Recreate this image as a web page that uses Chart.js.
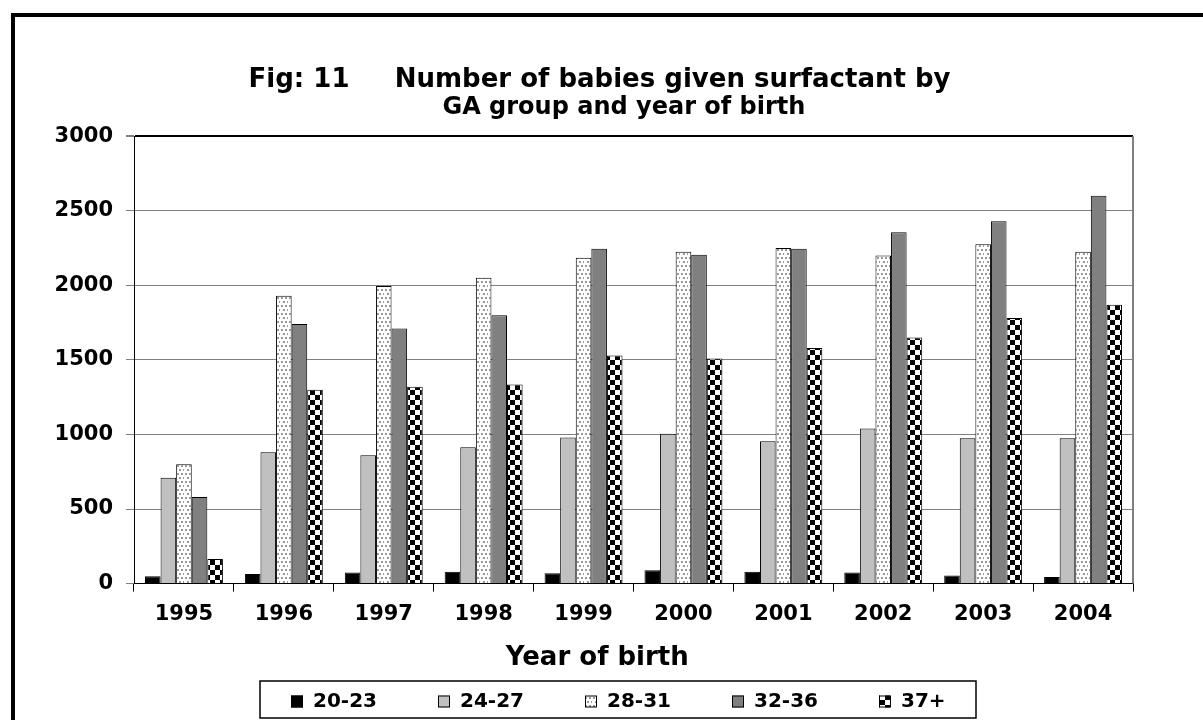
<!DOCTYPE html>
<html>
<head>
<meta charset="utf-8">
<script src="https://cdn.jsdelivr.net/npm/chart.js@4.4.1/dist/chart.umd.min.js"></script>
<style>
  html, body { margin: 0; padding: 0; background: #fff; overflow: hidden; }
  #frame { position: absolute; left: 11px; top: 13px; width: 1300px; height: 800px; border: 4px solid #000; }
  #surf { position: absolute; left: 0; top: 0; }
</style>
</head>
<body>
<div id="frame"></div>
<canvas id="surf" width="1203" height="720"></canvas>
<script>
// values
const years = ['1995', '1996', '1997', '1998', '1999', '2000', '2001', '2002', '2003', '2004'];
const ga20_23 = [50, 65, 75, 80, 70, 90, 80, 75, 55, 45];
const ga24_27 = [710, 880, 860, 915, 980, 1005, 955, 1040, 975, 975];
const ga28_31 = [800, 1930, 1995, 2050, 2185, 2225, 2250, 2200, 2275, 2225];
const ga32_36 = [580, 1740, 1710, 1800, 2245, 2205, 2245, 2355, 2430, 2600];
const ga37plus = [165, 1300, 1320, 1335, 1530, 1510, 1580, 1650, 1780, 1870];
const yTicks = [0, 500, 1000, 1500, 2000, 2500, 3000];

Chart.defaults.font.family = '"DejaVu Sans"';
Chart.defaults.font.weight = 'bold';
Chart.defaults.color = '#000';

function makeTile(size, paint) {
  const c = document.createElement('canvas');
  c.width = c.height = size;
  paint(c.getContext('2d'));
  return c;
}

const ctx = document.getElementById('surf').getContext('2d');

// white with little grey dots
const dots = ctx.createPattern(makeTile(8, g => {
  g.fillStyle = '#fff';
  g.fillRect(0, 0, 8, 8);
  g.fillStyle = '#999';
  [[1, 1], [5, 1], [3, 5], [7, 5]].forEach(p => g.fillRect(p[0], p[1], 2, 2));
}), 'repeat');

// black / white checks
const checks = ctx.createPattern(makeTile(10, g => {
  g.fillStyle = '#fff';
  g.fillRect(0, 0, 10, 10);
  g.fillStyle = '#000';
  g.fillRect(0, 0, 5, 5);
  g.fillRect(5, 5, 5, 5);
}), 'repeat');

// right side of the plot and the boxed legend under the axis title
const frameBits = {
  id: 'frameBits',
  afterDraw(chart) {
    const c = chart.ctx;
    const area = chart.chartArea;
    c.save();
    c.strokeStyle = '#808080';
    c.lineWidth = 2;
    c.beginPath();
    c.moveTo(area.right, area.top);
    c.lineTo(area.right, area.bottom);
    c.stroke();

    const top = 681, left = 260, w = 716, h = 37, first = 291, step = 147;
    c.strokeStyle = '#000';
    c.lineWidth = 1.5;
    c.strokeRect(left, top, w, h);
    c.font = 'bold 20px "DejaVu Sans"';
    c.textBaseline = 'middle';
    c.lineWidth = 1;
    chart.data.datasets.forEach((ds, i) => {
      const x = first + i * step, y = top + h / 2 + 2;
      c.fillStyle = ds.backgroundColor;
      c.fillRect(x, y - 6, 12, 12);
      c.strokeStyle = '#000';
      c.strokeRect(x + 0.5, y - 5.5, 11, 11);
      c.fillStyle = '#000';
      c.fillText(ds.label, x + 22, y);
    });
    c.restore();
  }
};

new Chart(ctx, {
  type: 'bar',
  data: {
    labels: years,
    datasets: [
      { label: '20-23', data: ga20_23, backgroundColor: '#000' },
      { label: '24-27', data: ga24_27, backgroundColor: '#c0c0c0' },
      { label: '28-31', data: ga28_31, backgroundColor: dots },
      { label: '32-36', data: ga32_36, backgroundColor: '#808080' },
      { label: '37+', data: ga37plus, backgroundColor: checks }
    ]
  },
  options: {
    responsive: false,
    animation: false,
    layout: { padding: { left: 48, right: 70, top: 0, bottom: 46 } },
    datasets: {
      bar: { borderColor: '#000', borderWidth: 1, categoryPercentage: 0.78, barPercentage: 1 }
    },
    plugins: {
      legend: { display: false },
      tooltip: { enabled: false },
      title: {
        display: true,
        text: '  Fig: 11     Number of babies given surfactant by',
        font: { size: 26, weight: 'bold', lineHeight: 1.08 },
        color: '#000',
        padding: { top: 66, bottom: 0 }
      },
      subtitle: {
        display: true,
        text: '        GA group and year of birth',
        font: { size: 24, weight: 'bold', lineHeight: 1.17 },
        color: '#000',
        padding: { top: 0, bottom: 14 }
      }
    },
    scales: {
      x: {
        grid: { offset: true, drawOnChartArea: false, drawTicks: true, tickLength: 8, color: '#000' },
        border: { color: '#000', width: 1 },
        ticks: { font: { size: 21 }, padding: 10 },
        title: {
          display: true,
          text: 'Year of birth        ',
          font: { size: 26, weight: 'bold' },
          padding: { top: 6, bottom: 0 }
        }
      },
      y: {
        min: 0,
        max: 3000,
        afterBuildTicks(scale) { scale.ticks = yTicks.map(v => ({ value: v })); },
        afterFit(scale) { scale.width = 86; },
        grid: {
          tickLength: 8,
          tickColor: '#808080',
          color: c => (c.tick && (c.tick.value === 3000 || c.tick.value === 0)) ? '#000' : '#808080',
          lineWidth: c => (c.tick && c.tick.value === 3000) ? 2 : 1
        },
        border: { color: '#000', width: 1 },
        ticks: { font: { size: 21 }, padding: 13, callback: v => String(v) }
      }
    }
  },
  plugins: [frameBits]
});
</script>
</body>
</html>
